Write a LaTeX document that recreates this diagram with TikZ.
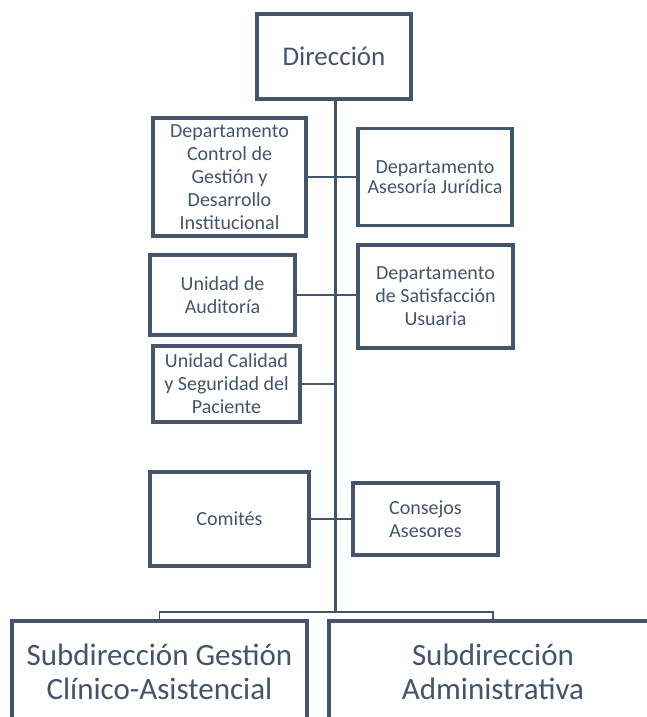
\documentclass[tikz,border=0pt]{standalone}
\usepackage{fontspec}
\setmainfont{Carlito}
\definecolor{slate}{HTML}{44546A}
\begin{document}
\begin{tikzpicture}[x=1pt,y=-1pt,
  box/.style={draw=slate,line width=3.6pt,fill=white,inner sep=0pt,align=center,text=slate},
  small/.style={box,font=\fontsize{20}{23}\selectfont},
  big/.style={box,font=\fontsize{31}{34}\selectfont},
  link/.style={draw=slate,line width=2.6pt},
  trunk/.style={draw=slate,line width=3pt},
  busline/.style={draw=slate,line width=1.4pt}]
\useasboundingbox (0,0) rectangle (647,717);
\clip (0,0) rectangle (647,717);
\fill[white] (0,0) rectangle (647,717);
% boxes
\node[box,font=\fontsize{27}{32}\selectfont,minimum width=154pt,minimum height=85pt] (dir) at (334,56.5) {Dirección};
\node[small,minimum width=153pt,minimum height=118pt] (dcg) at (229.5,177) {Departamento\\Control de\\Gestión y\\Desarrollo\\Institucional};
\node[small,minimum width=154pt,minimum height=97pt,font=\fontsize{20}{20}\selectfont] (daj) at (435,177) {Departamento\\Asesoría Jurídica};
\node[small,minimum width=145pt,minimum height=80pt] (ua) at (222.5,295) {Unidad de\\Auditoría};
\node[small,minimum width=155pt,minimum height=103pt] (dsu) at (435.5,296.5) {Departamento\\de Satisfacción\\Usuaria};
\node[small,minimum width=147pt,minimum height=76pt] (ucs) at (226.5,384) {Unidad Calidad\\y Seguridad del\\Paciente};
\node[small,minimum width=159pt,minimum height=94pt] (com) at (229.5,519) {Comités};
\node[small,minimum width=145pt,minimum height=72pt] (con) at (425.5,519) {Consejos\\Asesores};
\node[big,minimum width=295pt,minimum height=102pt] (sgc) at (159.5,672) {Subdirección Gestión\\Clínico-Asistencial};
\node[big,minimum width=328pt,minimum height=102pt] (sad) at (493,672) {Subdirección\\Administrativa};
% connectors
\coordinate (bus) at (335,612);
\draw[link] (dcg.east) -- (dcg.east -| daj.west);
\draw[link] (ua.east) -- (ua.east -| dsu.west);
\draw[link] (ucs.east) -- (ucs.east -| bus);
\draw[link] (com.east) -- (com.east -| con.west);
\draw[trunk] (dir.south -| bus) -- (bus);
\draw[busline] (sgc.north) |- (bus) -| (sad.north);
\end{tikzpicture}
\end{document}
